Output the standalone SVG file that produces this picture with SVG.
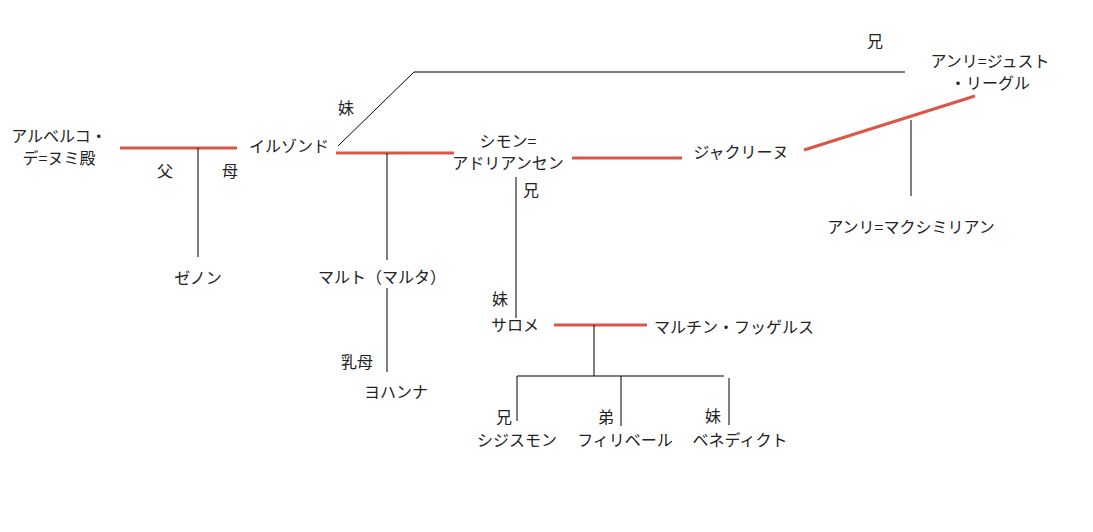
<svg xmlns="http://www.w3.org/2000/svg" width="1093" height="532" viewBox="0 0 1093 532">
<style>
text{font-family:"Noto Sans CJK JP",sans-serif;font-size:16px;fill:#222;text-anchor:middle}
.k{stroke:#000;stroke-width:1;fill:none}
.r{stroke:#d9574a;stroke-width:3;fill:none}
</style>
<rect width="1093" height="532" fill="#fff"/>
<g id="connectors">
<line class="r" x1="120" y1="148" x2="237" y2="148"/>
<line class="k" x1="198" y1="148" x2="198" y2="257"/>
<line class="r" x1="336" y1="153" x2="454" y2="153"/>
<line class="k" x1="387" y1="153" x2="387" y2="260"/>
<line class="k" x1="387" y1="288" x2="387" y2="372"/>
<polyline class="k" points="338,146 414,72 905,72"/>
<line class="r" x1="572" y1="158" x2="682" y2="158"/>
<line class="r" x1="804" y1="150" x2="975" y2="96"/>
<line class="k" x1="911" y1="120" x2="911" y2="196"/>
<line class="k" x1="516" y1="177" x2="516" y2="318"/>
<line class="r" x1="554" y1="325" x2="647" y2="325"/>
<line class="k" x1="594" y1="325" x2="594" y2="376"/>
<line class="k" x1="517" y1="376" x2="724" y2="376"/>
<line class="k" x1="517" y1="376" x2="517" y2="421"/>
<line class="k" x1="621" y1="376" x2="621" y2="426"/>
<line class="k" x1="729" y1="378" x2="729" y2="425"/>
</g>
<g id="n1"><text x="59" y="142">アルベルコ・</text><text x="59" y="164">デ=ヌミ殿</text></g>
<g id="n2"><text x="289" y="152">イルゾンド</text></g>
<g id="n3"><text x="165" y="177">父</text><text x="230" y="177">母</text></g>
<g id="n4"><text x="198" y="284">ゼノン</text></g>
<g id="n5"><text x="346" y="114">妹</text></g>
<g id="n6"><text x="508" y="147">シモン=</text><text x="508" y="169">アドリアンセン</text></g>
<g id="n7"><text x="531" y="196">兄</text></g>
<g id="n8"><text x="382" y="283">マルト（マルタ）</text></g>
<g id="n9"><text x="357" y="368">乳母</text><text x="396" y="398">ヨハンナ</text></g>
<g id="n10"><text x="741" y="158">ジャクリーヌ</text></g>
<g id="n11"><text x="875" y="47">兄</text></g>
<g id="n12"><text x="990" y="67">アンリ=ジュスト</text><text x="990" y="89">・リーグル</text></g>
<g id="n13"><text x="911" y="233">アンリ=マクシミリアン</text></g>
<g id="n14"><text x="500" y="305">妹</text><text x="515" y="331">サロメ</text></g>
<g id="n15"><text x="734" y="333">マルチン・フッゲルス</text></g>
<g id="n16"><text x="504" y="423">兄</text><text x="517" y="446">シジスモン</text></g>
<g id="n17"><text x="606" y="423">弟</text><text x="625" y="446">フィリベール</text></g>
<g id="n18"><text x="713" y="422">妹</text><text x="740" y="446">ベネディクト</text></g>
</svg>
